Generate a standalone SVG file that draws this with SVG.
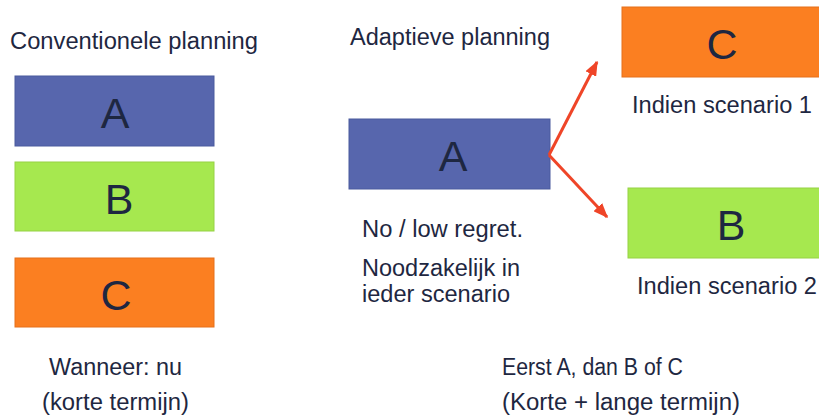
<svg xmlns="http://www.w3.org/2000/svg" width="819" height="419" viewBox="0 0 819 419">
<style>
text{font-family:"Liberation Sans",Arial,sans-serif;fill:#1e2741}
.t{font-size:23px}
.big{font-size:43px;text-anchor:middle}
.blue{fill:#5766ad;stroke:#4a5a9e;stroke-width:1}
.green{fill:#a6e84f;stroke:#96d244;stroke-width:1}
.orange{fill:#fb7f21;stroke:#e6701a;stroke-width:1}
.arr{stroke:#ef4528;stroke-width:3;fill:none;marker-end:url(#ah)}
</style>
<defs>
<marker id="ah" markerWidth="5" markerHeight="4" refX="4.5" refY="2" orient="auto" markerUnits="strokeWidth">
<path d="M0,0 L5,2 L0,4 Z" fill="#ef4528"/>
</marker>
</defs>
<rect width="819" height="419" fill="#fff"/>
<text class="t" x="10" y="49" textLength="248" lengthAdjust="spacingAndGlyphs">Conventionele planning</text>
<text class="t" x="350" y="45" textLength="200" lengthAdjust="spacingAndGlyphs">Adaptieve planning</text>
<g id="conv-A"><rect class="blue" x="15" y="76" width="199" height="70"/><text class="big" x="115" y="128">A</text></g>
<g id="conv-B"><rect class="green" x="15" y="162" width="199" height="69"/><text class="big" x="119" y="214">B</text></g>
<g id="conv-C"><rect class="orange" x="15" y="258" width="199" height="69"/><text class="big" x="116" y="310">C</text></g>
<g id="adapt-A"><rect class="blue" x="349" y="119" width="201" height="70"/><text class="big" x="453" y="171">A</text></g>
<g id="adapt-C"><rect class="orange" x="622" y="7" width="200" height="70"/><text class="big" x="722" y="59">C</text></g>
<g id="adapt-B"><rect class="green" x="628" y="188" width="194" height="70"/><text class="big" x="731" y="240">B</text></g>
<g id="connectors">
<path class="arr" d="M549,155 L597,62"/>
<path class="arr" d="M549,155 L607,217"/>
</g>
<text class="t" x="632" y="113" textLength="180" lengthAdjust="spacingAndGlyphs">Indien scenario 1</text>
<text class="t" x="637" y="294" textLength="180" lengthAdjust="spacingAndGlyphs">Indien scenario 2</text>
<text class="t" x="362" y="237" textLength="161" lengthAdjust="spacingAndGlyphs">No / low regret.</text>
<text class="t" x="362" y="276" textLength="158" lengthAdjust="spacingAndGlyphs">Noodzakelijk in</text>
<text class="t" x="362" y="302" textLength="148" lengthAdjust="spacingAndGlyphs">ieder scenario</text>
<text class="t" x="49" y="375" textLength="133" lengthAdjust="spacingAndGlyphs">Wanneer: nu</text>
<text class="t" x="42" y="410" textLength="147" lengthAdjust="spacingAndGlyphs">(korte termijn)</text>
<text class="t" x="502" y="375" textLength="181" lengthAdjust="spacingAndGlyphs">Eerst A, dan B of C</text>
<text class="t" x="502" y="410" textLength="238" lengthAdjust="spacingAndGlyphs">(Korte + lange termijn)</text>
</svg>
